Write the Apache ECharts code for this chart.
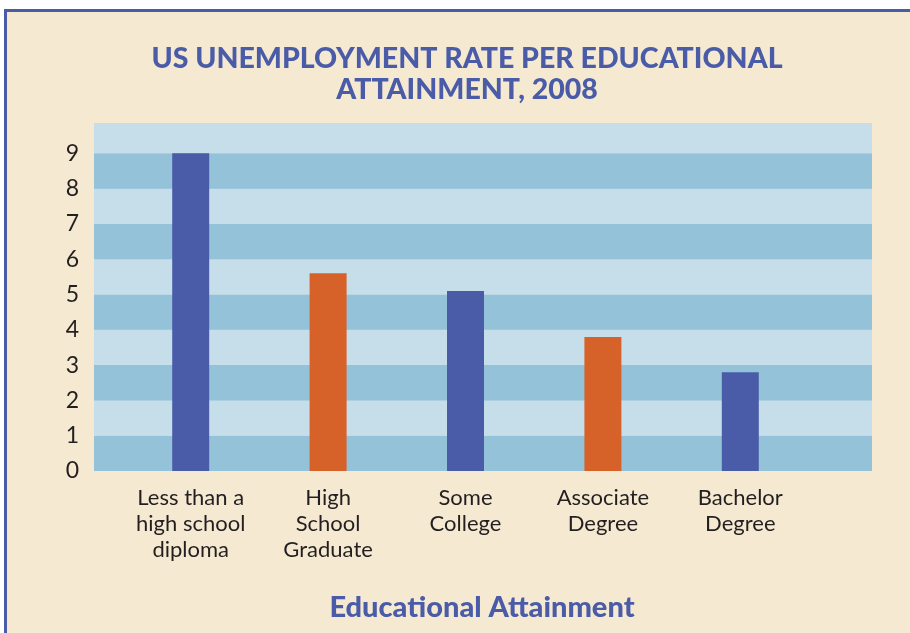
<!DOCTYPE html>
<html>
<head>
<meta charset="utf-8">
<script src="https://cdn.jsdelivr.net/npm/echarts@6/dist/echarts.min.js"></script>
<style>
  body { margin: 0; background: #ffffff; }
  #frame {
    position: absolute; left: 4px; top: 9px; right: 0; bottom: 0;
    background: #f5e9d1;
    border-left: 3px solid #4a5ca8;
    border-top: 3px solid #4a5ca8;
  }
  #chart { position: absolute; left: 0; top: 0; width: 910px; height: 633px; }
</style>
</head>
<body>
<div id="frame"></div>
<div id="chart"></div>
<script>
// data
const categories = [
  'Less than a\nhigh school\ndiploma',
  'High\nSchool\nGraduate',
  'Some\nCollege',
  'Associate\nDegree',
  'Bachelor\nDegree',
];
const rates = [9.0, 5.6, 5.1, 3.8, 2.8];
const barColors = ['#4a5ca8', '#d6622a', '#4a5ca8', '#d6622a', '#4a5ca8'];

const yMax = 9.86; // top of the banded area sits a bit above 9
const blue = '#4a5ca8';
const textDark = '#231f20';

const chart = echarts.init(document.getElementById('chart'), null, { renderer: 'canvas' });

chart.setOption({
  backgroundColor: 'transparent',
  animation: false,
  title: [
    {
      text: 'US UNEMPLOYMENT RATE PER EDUCATIONAL\nATTAINMENT, 2008',
      left: 462,
      top: 38,
      textAlign: 'center',
      textStyle: {
        color: blue,
        fontFamily: 'Lato',
        fontWeight: 900,
        fontSize: 28.5,
        lineHeight: 31,
      },
    },
    {
      text: 'Educational Attainment',
      left: 477,
      top: 588,
      textAlign: 'center',
      textStyle: {
        color: blue,
        fontFamily: 'Lato',
        fontWeight: 900,
        fontSize: 29,
      },
    },
  ],
  grid: [
    // banded background + y labels
    { left: 94, right: 38, top: 123, bottom: 162, show: true, backgroundColor: '#c5dee9', borderWidth: 0 },
    // bars + category labels
    { left: 122, right: 101, top: 123, bottom: 162 },
  ],
  xAxis: [
    { gridIndex: 0, type: 'category', data: [''], show: false },
    {
      gridIndex: 1,
      type: 'category',
      data: categories,
      axisLine: { show: false },
      axisTick: { show: false },
      axisLabel: {
        color: textDark,
        fontFamily: 'Lato',
        fontSize: 22,
        lineHeight: 26,
        margin: 14,
        interval: 0,
      },
    },
  ],
  yAxis: [
    {
      gridIndex: 0,
      type: 'value',
      min: 0,
      max: yMax,
      interval: 1,
      axisLine: { show: false },
      axisTick: { show: false },
      splitLine: { show: false },
      splitArea: {
        show: true,
        areaStyle: { color: ['#94c2d9', '#c5dee9'] },
      },
      axisLabel: {
        color: textDark,
        fontFamily: 'Lato',
        fontSize: 23,
        margin: 15,
        formatter(v) {
          return Number.isInteger(v) ? String(v) : '';
        },
      },
    },
    { gridIndex: 1, type: 'value', min: 0, max: yMax, show: false },
  ],
  series: [
    {
      type: 'bar',
      xAxisIndex: 1,
      yAxisIndex: 1,
      barWidth: 37,
      data: rates.map((v, i) => ({ value: v, itemStyle: { color: barColors[i] } })),
    },
  ],
});

window.addEventListener('resize', () => {
  chart.resize();
});
</script>
</body>
</html>
